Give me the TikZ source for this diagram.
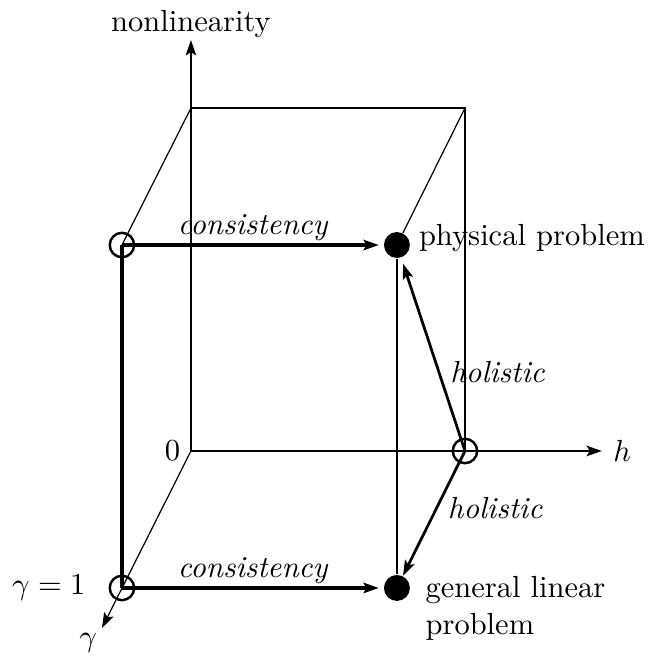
\documentclass[tikz,border=0pt]{standalone}
\usepackage{tikz}
\usetikzlibrary{positioning, arrows.meta}
\tikzset{
    head/.tip        = {Stealth[length=5pt, width=3.4pt, inset=1pt]},
    backedge/.style  = {line width=0.8pt},
    slant/.style     = {line width=0.4pt},
    frontedge/.style = {line width=1.2pt},
    axisline/.style  = {backedge, -{head}},
    consist/.style   = {frontedge, -{head}, shorten >=1.5pt},
    holist/.style    = {line width=0.9pt, -{head}},
    ring/.style      = {draw, circle, line width=0.8pt, minimum size=8pt, inner sep=0pt},
    blob/.style      = {fill, circle, minimum size=8.5pt, inner sep=0pt},
    arrlabel/.style  = {font=\itshape}
}
\begin{document}
\begin{tikzpicture}[x=1cm, y=1cm]
        \useasboundingbox (-2.20,-2.362) rectangle (5.299,5.196);

        % corners and axis ends
        \coordinate (O)    at (0,0);
        \coordinate (btl)  at (0,3.951);
        \coordinate (btr)  at (3.157,3.951);
        \coordinate (vtip) at (0,4.735);
        \coordinate (htip) at (4.735,0);
        \coordinate (gtip) at (-1.025,-2.039);

        \node[ring] (gtop)   at (-0.795,2.373)  {};
        \node[ring] (gbot)   at (-0.795,-1.578) {};
        \node[ring] (hring)  at (3.157,0)       {};
        \node[blob] (phys)   at (2.373,2.373)   {};
        \node[blob] (genlin) at (2.373,-1.578)  {};

        % back face and axes
        \draw[backedge] (btl) -- (btr) -- (hring.center);
        \draw[axisline] (O) -- (vtip) node[above, inner sep=0.5pt] (nlab) {nonlinearity};
        \draw[axisline] (O) -- (htip) node[right] (hlab) {$h$};
        \draw[slant, -{head}] (O) -- (gtip) node[below left, inner sep=1.5pt] (glab) {$\gamma$};
        \node[left] (zero) at (O) {$0$};

        % depth edges
        \draw[slant] (gtop.center) -- (btl);
        \draw[slant] (phys) -- (btr);

        % front face
        \draw[frontedge] (gtop.center) -- (gbot.center);
        \draw[backedge] (phys) -- (genlin);
        \draw[consist] (gtop.center) -- (phys)
            node[midway, above, inner sep=0.7pt, arrlabel] {consistency};
        \draw[consist] (gbot.center) -- (genlin)
            node[midway, above, inner sep=0.7pt, arrlabel] {consistency};

        % holistic arrows
        \draw[holist, shorten >=2pt] (hring.center) -- (phys)
            node[pos=0.41, right, arrlabel] {holistic};
        \draw[holist] (hring.center) -- (genlin)
            node[pos=0.46, right, arrlabel] {holistic};

        \node[left=4pt of gbot] (g1lab) {$\gamma=1$};
        \node[anchor=base west, inner sep=0pt] (plab) at ([xshift=2.6pt]phys.east) {physical problem};
        \node[anchor=north west, inner sep=0pt, align=left] (gllab)
            at ([xshift=9.2pt, yshift=3.9pt]genlin.center) {general linear\\problem};
    \end{tikzpicture}
\end{document}
